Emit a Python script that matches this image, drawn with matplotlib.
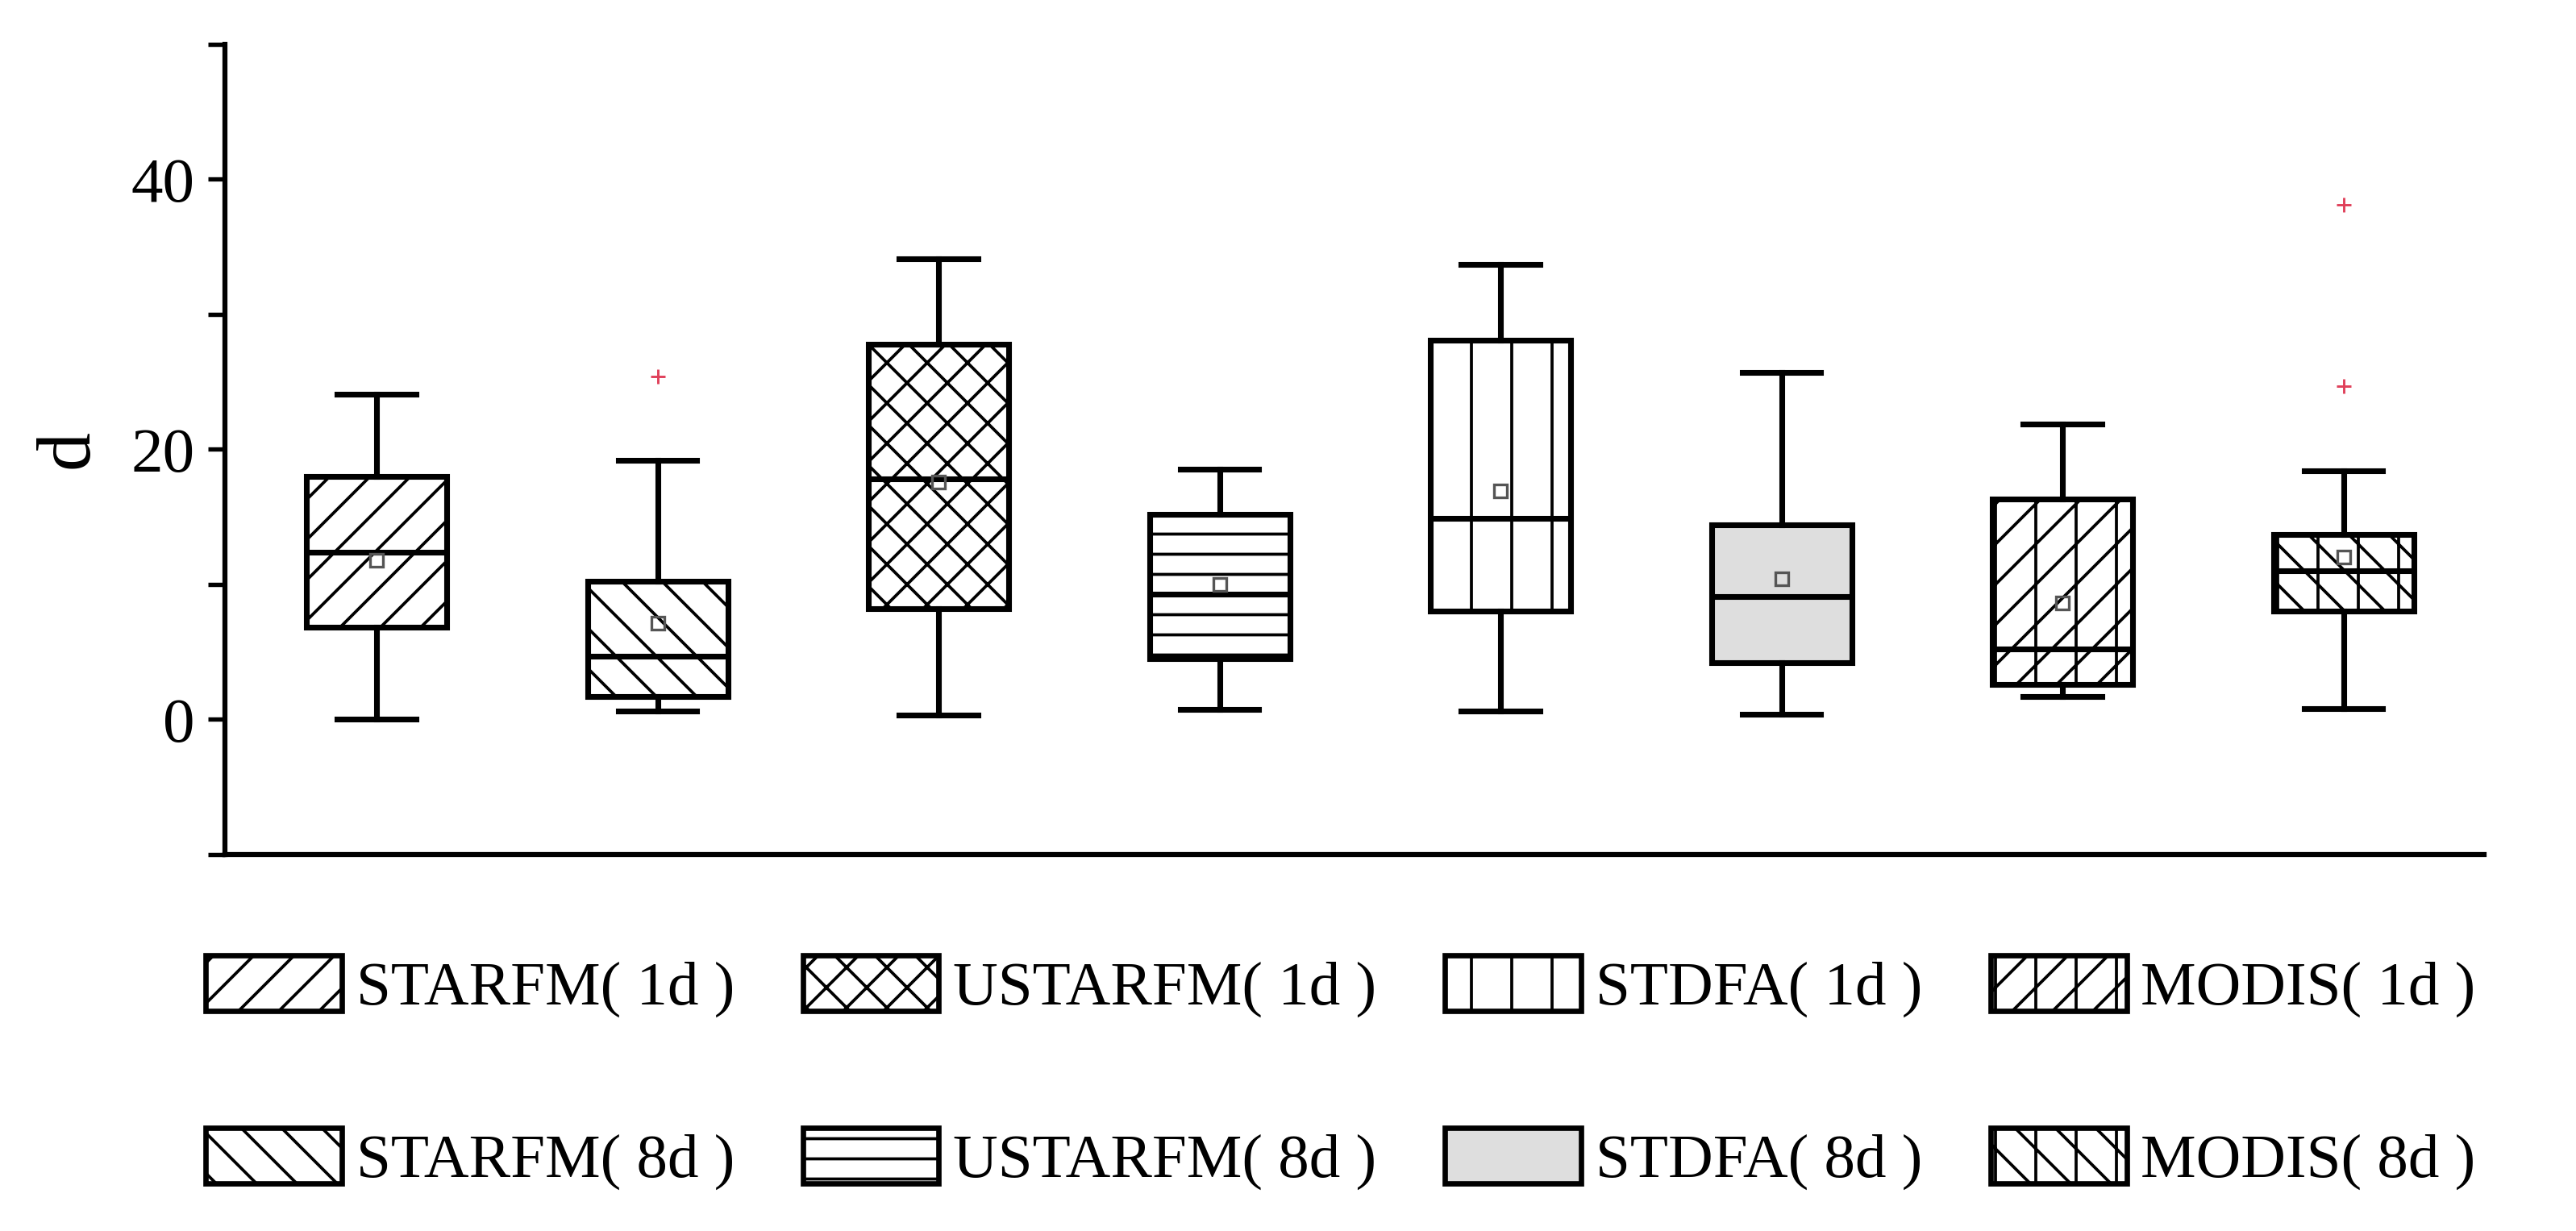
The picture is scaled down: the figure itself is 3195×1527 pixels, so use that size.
import matplotlib.pyplot as plt
from matplotlib.patches import Patch

plt.rcParams['font.family'] = ['Liberation Serif', 'DejaVu Serif']
plt.rcParams['hatch.linewidth'] = 0.9

# box statistics
labels = ['STARFM( 1d )', 'STARFM( 8d )', 'USTARFM( 1d )', 'USTARFM( 8d )',
          'STDFA( 1d )', 'STDFA( 8d )', 'MODIS( 1d )', 'MODIS( 8d )']
whis_lo = [0.0, 0.6, 0.3, 0.75, 0.6, 0.4, 1.7, 0.8]
q1 = [6.8, 1.7, 8.2, 4.5, 8.0, 4.2, 2.6, 8.0]
medians = [12.4, 4.7, 17.8, 9.3, 14.9, 9.1, 5.2, 11.0]
q3 = [18.0, 10.2, 27.8, 15.2, 28.1, 14.4, 16.3, 13.7]
whis_hi = [24.1, 19.2, 34.1, 18.5, 33.7, 25.7, 21.9, 18.4]
means = [11.8, 7.1, 17.6, 10.0, 16.9, 10.4, 8.6, 12.0]
outliers = [[], [25.4], [], [], [], [], [], [38.1, 24.7]]

hatches = ['//', '\\\\', 'xx', '--', '|', '', '|//', '|\\\\']
faces = ['white', 'white', 'white', 'white', 'white', '#dedede', 'white', 'white']

stats = []
for i in range(len(labels)):
    stats.append(dict(whislo=whis_lo[i], q1=q1[i], med=medians[i], q3=q3[i],
                      whishi=whis_hi[i], mean=means[i], fliers=outliers[i]))

fig = plt.figure(figsize=(10.65, 5.09), dpi=300)
ax = fig.add_axes([0.0873, 0.306, 0.877, 0.658])

lw = 1.7
bp = ax.bxp(stats, positions=range(1, 9), widths=0.5, capwidths=0.28,
            showmeans=True, patch_artist=True,
            boxprops=dict(linewidth=lw, edgecolor='black'),
            medianprops=dict(color='black', linewidth=lw),
            whiskerprops=dict(color='black', linewidth=lw),
            capprops=dict(color='black', linewidth=lw),
            meanprops=dict(marker='s', markerfacecolor='none',
                           markeredgecolor='#555555', markersize=4,
                           markeredgewidth=0.8),
            flierprops=dict(marker='+', markeredgecolor='#e0405a',
                            markersize=4.5, markeredgewidth=0.7))

for box, h, fc in zip(bp['boxes'], hatches, faces):
    box.set_hatch(h)
    box.set_facecolor(fc)

ax.set_xlim(0.46, 8.5)
ax.set_ylim(-10, 50)
ax.set_yticks([0, 20, 40])
ax.set_yticks([-10, 10, 30, 50], minor=True)
ax.set_xticks([])
ax.tick_params(axis='y', which='both', direction='out', length=5, width=1.3,
               labelsize=19, pad=4)
ax.set_ylabel('d', fontsize=23, labelpad=8)

for s in ['top', 'right']:
    ax.spines[s].set_visible(False)
for s in ['left', 'bottom']:
    ax.spines[s].set_linewidth(1.5)

handles = [Patch(facecolor=fc, edgecolor='black', hatch=h, linewidth=1.6)
           for h, fc in zip(hatches, faces)]
fig.legend(handles, labels, ncol=4, loc='upper left',
           bbox_to_anchor=(0.0798, 0.224), frameon=False, fontsize=18.5,
           handlelength=2.19, handleheight=1.0, handletextpad=0.23,
           columnspacing=1.1, labelspacing=1.78, borderpad=0, borderaxespad=0)

fig.savefig('out.png', dpi=300, facecolor='white')
